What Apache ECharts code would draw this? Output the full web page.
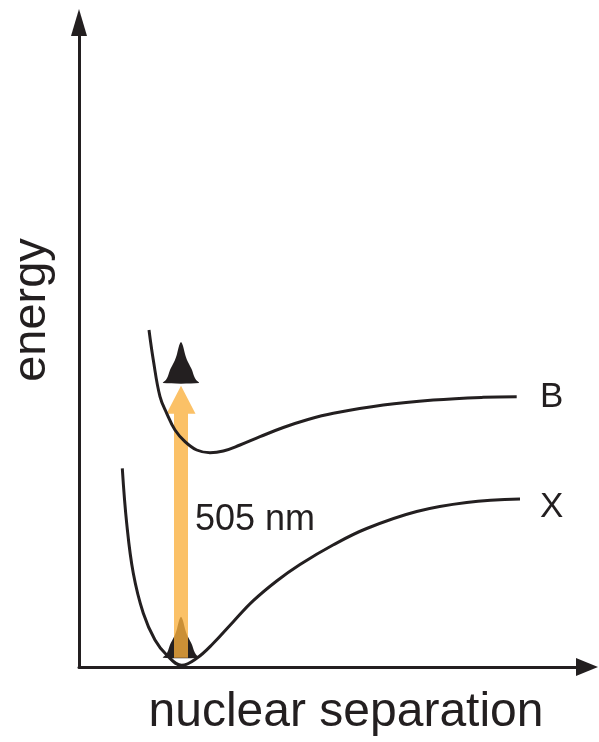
<!DOCTYPE html>
<html>
<head>
<meta charset="utf-8">
<script src="https://cdn.jsdelivr.net/npm/echarts@6/dist/echarts.min.js"></script>
<style>
html,body{margin:0;padding:0;background:#fff;}
#chart{width:599px;height:742px;}
</style>
</head>
<body>
<div id="chart"></div>
<script>
// Potential energy curves (arbitrary units: x = nuclear separation, y = energy)
var groundState = [
  [43.3, 198.7], [47.7, 143.7], [54.3, 93.7], [64.3, 53.7], [76, 27], [87.7, 12],
  [102.7, 1.7], [117.7, 8.7], [134.3, 23.7], [154.3, 45.3], [174.3, 66.3], [197.7, 86],
  [221, 102.5], [254, 122], [287.7, 138.5], [337.7, 155.5], [387.7, 164.5], [441, 168]
];
var excitedState = [
  [70, 337], [74.3, 307], [81, 270.3], [87.7, 253.7], [96, 237], [106, 225.3],
  [117.7, 217], [131, 214.3], [144.3, 216], [161, 222], [181, 230.3], [204.3, 239.5],
  [229, 247.5], [254.3, 253.7], [304.3, 262], [354.3, 267], [404.3, 269.7], [437.7, 270.3]
];
// Wave packets (outline points)
var lowerPacket = [
  [84, 9.3], [87, 12.6], [89, 16.3], [91, 22.3], [94, 28.3], [96, 32.3], [98, 38.3],
  [100, 46.3], [102, 50.3], [104, 46.3], [106, 38.3], [108, 32.3], [110, 28.3],
  [113, 22.3], [115, 16.3], [117, 12.6], [120, 9.3]
];
var upperPacket = [
  [84, 284], [87, 287.3], [89, 291], [91, 297], [94, 303], [96, 307], [98, 313],
  [100, 321], [102, 325], [104, 321], [106, 313], [108, 307], [110, 303],
  [113, 297], [115, 291], [117, 287.3], [120, 284]
];
// Vertical transition: [x, start energy, arrow tip energy]
var transition = [[102, 9.3, 281.3]];
var stateLabels = ['B', 'X'];
var transitionLabel = '505 nm';
var xAxisName = 'nuclear separation';
var yAxisName = 'energy';

var INK = '#231F20';
var FONT = '"Liberation Sans", Arial, Helvetica, sans-serif';
var packets = [lowerPacket, upperPacket];

var chart = echarts.init(document.getElementById('chart'), null, {renderer: 'canvas'});
chart.setOption({
  animation: false,
  backgroundColor: '#ffffff',
  grid: {left: 79, top: 22.5, right: 12, bottom: 75, containLabel: false},
  xAxis: {
    type: 'value', min: 0, max: 508,
    axisLine: {show: true, onZero: false, symbol: ['none', 'triangle'], symbolSize: [18, 22],
      lineStyle: {color: INK, width: 3}},
    axisTick: {show: false}, axisLabel: {show: false}, splitLine: {show: false}
  },
  yAxis: {
    type: 'value', min: 0, max: 644.5,
    axisLine: {show: true, onZero: false, symbol: ['none', 'triangle'], symbolSize: [16, 27],
      lineStyle: {color: INK, width: 3}},
    axisTick: {show: false}, axisLabel: {show: false}, splitLine: {show: false}
  },
  series: [
    {
      type: 'custom',
      data: packets.map(function (p, i) { return [p[8][0], p[8][1], i]; }),
      renderItem: function (params, api) {
        var pts = packets[params.dataIndex].map(function (d) { return api.coord(d); });
        return {type: 'polygon', shape: {points: pts, smooth: 0.3}, style: {fill: INK}};
      },
      silent: true
    },
    {
      type: 'line', data: groundState, smooth: 0.4, showSymbol: false,
      lineStyle: {color: INK, width: 3}, silent: true
    },
    {
      type: 'line', data: excitedState, smooth: 0.4, showSymbol: false,
      lineStyle: {color: INK, width: 3}, silent: true
    },
    {
      type: 'custom',
      data: transition,
      renderItem: function (params, api) {
        var x = api.value(0), y0 = api.value(1), y1 = api.value(2);
        var p0 = api.coord([x, y0]), p1 = api.coord([x, y1]);
        var shaftW = 14, headW = 29, headL = 28;
        var cx = p0[0], base = p1[1] + headL;
        var pts = [
          [cx - shaftW / 2, p0[1]], [cx - shaftW / 2, base], [cx - headW / 2, base],
          [cx, p1[1]], [cx + headW / 2, base], [cx + shaftW / 2, base], [cx + shaftW / 2, p0[1]]
        ];
        return {type: 'polygon', shape: {points: pts}, style: {fill: 'rgba(250,176,60,0.78)'}};
      },
      silent: true
    }
  ],
  graphic: [
    {type: 'text', x: 32, y: 310, rotation: Math.PI / 2,
      style: {text: yAxisName, font: '47px ' + FONT, fill: INK, textAlign: 'center', textVerticalAlign: 'middle'}},
    {type: 'text', x: 346, y: 713,
      style: {text: xAxisName, font: '48px ' + FONT, fill: INK, textAlign: 'center', textVerticalAlign: 'middle'}},
    {type: 'text', x: 195, y: 520,
      style: {text: transitionLabel, font: '36px ' + FONT, fill: INK, textAlign: 'left', textVerticalAlign: 'middle'}},
    {type: 'text', x: 540, y: 397,
      style: {text: stateLabels[0], font: '35px ' + FONT, fill: INK, textAlign: 'left', textVerticalAlign: 'middle'}},
    {type: 'text', x: 540, y: 507,
      style: {text: stateLabels[1], font: '35px ' + FONT, fill: INK, textAlign: 'left', textVerticalAlign: 'middle'}}
  ]
});
</script>
</body>
</html>
